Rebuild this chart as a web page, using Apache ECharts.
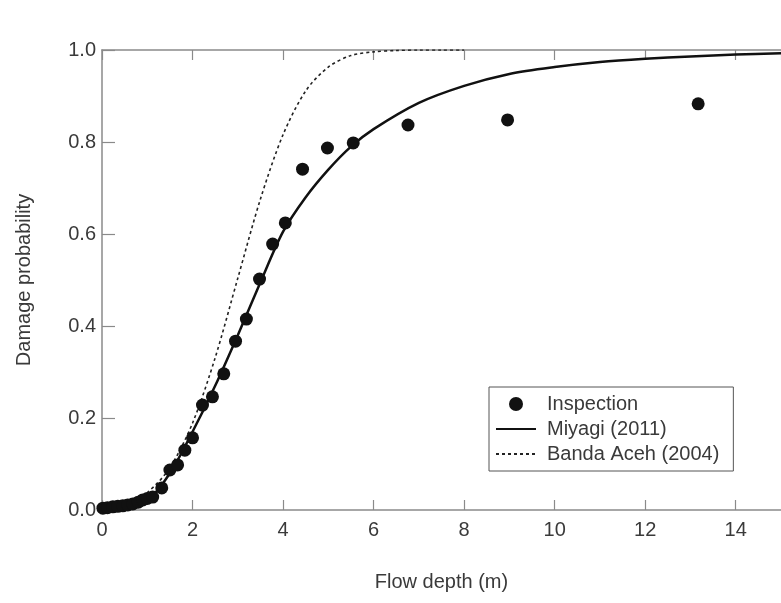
<!DOCTYPE html>
<html>
<head>
<meta charset="utf-8">
<script src="https://cdn.jsdelivr.net/npm/echarts@6/dist/echarts.min.js"></script>
<style>
html,body{margin:0;padding:0;background:#fff;}
#chart{width:781px;height:603px;}
</style>
</head>
<body>
<div id="chart"></div>
<script>
// ---- data ----
const xTicks = [0, 2, 4, 6, 8, 10, 12, 14];
const yTicks = [0.0, 0.2, 0.4, 0.6, 0.8, 1.0];

const inspectionX = [0.02, 0.12, 0.24, 0.35, 0.46, 0.57, 0.68, 0.8, 0.9, 1.0, 1.12, 1.32, 1.5, 1.67, 1.83, 2.0, 2.22, 2.44, 2.69, 2.95, 3.19, 3.48, 3.77, 4.05, 4.43, 4.98, 5.55, 6.76, 8.96, 13.17];
const inspectionY = [0.004, 0.005, 0.007, 0.008, 0.009, 0.011, 0.013, 0.017, 0.022, 0.025, 0.028, 0.048, 0.087, 0.098, 0.13, 0.157, 0.228, 0.246, 0.296, 0.367, 0.415, 0.502, 0.578, 0.624, 0.741, 0.787, 0.798, 0.837, 0.848, 0.883];

const miyagiX = [0, 0.5, 1, 1.5, 2, 2.5, 3, 3.5, 4, 4.5, 5, 5.5, 6, 7, 8, 9, 10, 11, 12, 13, 14, 15];
const miyagiY = [0, 0.002, 0.02, 0.08, 0.17, 0.27, 0.38, 0.495, 0.605, 0.68, 0.74, 0.79, 0.828, 0.885, 0.922, 0.948, 0.963, 0.974, 0.981, 0.986, 0.99, 0.993];

const bandaX = [0, 0.5, 1, 1.5, 2, 2.5, 3, 3.5, 4, 4.5, 5, 5.5, 6, 6.5, 7, 7.5, 8];
const bandaY = [0.004, 0.013, 0.038, 0.092, 0.189, 0.331, 0.504, 0.676, 0.816, 0.911, 0.963, 0.988, 0.996, 0.999, 1.0, 1.0, 1.0];

const seriesNames = ['Inspection', 'Miyagi (2011)', 'Banda Aceh (2004)'];
const xName = 'Flow depth (m)';
const yName = 'Damage probability';

// ---- build chart ----
const pairs = (xs, ys) => xs.map((x, i) => [x, ys[i]]);
const FONT = "'Liberation Sans', Arial, Helvetica, sans-serif";
const axisGrey = '#8a8a8a';
const textCol = '#3a3a3a';
const hidden = {color: 'rgba(0,0,0,0)', borderColor: 'rgba(0,0,0,0)', borderWidth: 0};

const chart = echarts.init(document.getElementById('chart'), null, {renderer: 'canvas'});
chart.setOption({
  backgroundColor: '#ffffff',
  animation: false,
  textStyle: {fontFamily: FONT},
  grid: {left: 102, top: 50, width: 681, height: 460, containLabel: false},
  legend: {
    data: [
      {name: seriesNames[0]},
      {name: seriesNames[1], itemStyle: hidden},
      {name: seriesNames[2], itemStyle: hidden}
    ],
    orient: 'vertical',
    left: 489, top: 387,
    width: 254,
    padding: [7, 14, 7, 6],
    itemGap: 5,
    itemWidth: 40, itemHeight: 14,
    borderColor: '#555', borderWidth: 1,
    backgroundColor: '#fff',
    textStyle: {fontFamily: FONT, fontSize: 20, color: textCol, padding: [0, 0, 0, 6]}
  },
  xAxis: [{
    type: 'value', min: 0, max: 15, interval: 2,
    name: xName, nameLocation: 'middle', nameGap: 62,
    nameTextStyle: {fontFamily: FONT, fontSize: 20, color: textCol},
    axisLine: {show: true, lineStyle: {color: axisGrey, width: 1.5}},
    axisTick: {show: true, inside: true, length: 10, lineStyle: {color: axisGrey, width: 1.2}},
    axisLabel: {show: true, margin: 10, fontSize: 20, color: textCol, showMaxLabel: false,
      formatter: v => xTicks.indexOf(v) >= 0 ? String(v) : ''},
    splitLine: {show: false}
  }, {
    type: 'value', min: 0, max: 15, interval: 2, position: 'top',
    axisLine: {show: true, onZero: false, lineStyle: {color: axisGrey, width: 1.5}},
    axisTick: {show: true, inside: true, length: 10, lineStyle: {color: axisGrey, width: 1.2}},
    axisLabel: {show: false},
    splitLine: {show: false}
  }],
  yAxis: [{
    type: 'value', min: 0, max: 1, interval: 0.2,
    name: yName, nameLocation: 'middle', nameGap: 68, nameRotate: 90,
    nameTextStyle: {fontFamily: FONT, fontSize: 20, color: textCol},
    axisLine: {show: true, lineStyle: {color: axisGrey, width: 1.5}},
    axisTick: {show: true, inside: true, length: 13, lineStyle: {color: axisGrey, width: 1.2}},
    axisLabel: {show: true, margin: 6, fontSize: 20, color: textCol,
      formatter: v => {
        const t = yTicks.find(t => Math.abs(t - v) < 1e-9);
        return t === undefined ? '' : t.toFixed(1);
      }},
    splitLine: {show: false}
  }],
  series: [{
    name: seriesNames[0], type: 'scatter', xAxisIndex: 0, yAxisIndex: 0,
    data: pairs(inspectionX, inspectionY),
    symbol: 'circle', symbolSize: 13,
    itemStyle: {color: '#111', opacity: 1}, z: 5
  }, {
    name: seriesNames[1], type: 'line', xAxisIndex: 0, yAxisIndex: 0,
    data: pairs(miyagiX, miyagiY),
    symbol: 'none', smooth: 0.3,
    lineStyle: {color: '#111', width: 2.5}, itemStyle: {color: '#111'}, z: 4
  }, {
    name: seriesNames[2], type: 'line', xAxisIndex: 0, yAxisIndex: 0,
    data: pairs(bandaX, bandaY),
    symbol: 'none', smooth: 0.3,
    lineStyle: {color: '#222', width: 1.6, type: [3, 3]}, itemStyle: {color: '#222'}, z: 3
  }]
});
</script>
</body>
</html>
